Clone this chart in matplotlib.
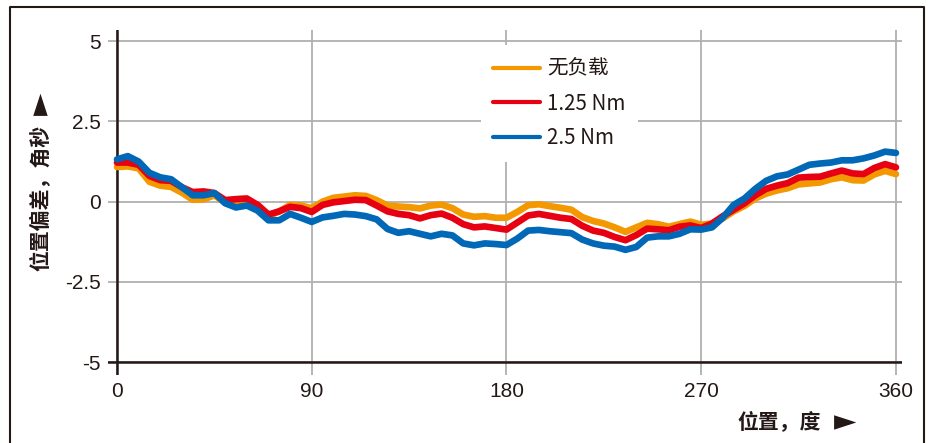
import numpy as np
import matplotlib
matplotlib.use("Agg")
import matplotlib.pyplot as plt
from matplotlib.lines import Line2D

plt.rcParams['font.family'] = ['Noto Sans CJK SC', 'DejaVu Sans']

# position, degrees
deg = list(range(0, 361, 5))

# position error, arcsec
no_load = [1.08, 1.10, 1.04, 0.62, 0.50, 0.46, 0.28, 0.06, 0.07, 0.20,
           -0.03, -0.12, -0.10, -0.20, -0.45, -0.30, -0.10, -0.12, -0.20, 0.00,
           0.12, 0.16, 0.20, 0.18, 0.05, -0.12, -0.15, -0.17, -0.21, -0.12,
           -0.09, -0.20, -0.40, -0.47, -0.45, -0.50, -0.50, -0.32, -0.11, -0.08,
           -0.14, -0.19, -0.25, -0.48, -0.60, -0.68, -0.80, -0.94, -0.80, -0.66,
           -0.70, -0.78, -0.70, -0.62, -0.72, -0.68, -0.52, -0.30, -0.13, 0.10,
           0.25, 0.35, 0.42, 0.54, 0.57, 0.60, 0.70, 0.76, 0.67, 0.66,
           0.85, 0.96, 0.86]
load_125 = [1.22, 1.22, 1.15, 0.80, 0.67, 0.65, 0.45, 0.30, 0.32, 0.27,
            0.05, 0.08, 0.10, -0.10, -0.40, -0.30, -0.16, -0.20, -0.32, -0.10,
            -0.02, 0.02, 0.06, 0.05, -0.12, -0.30, -0.38, -0.42, -0.52, -0.42,
            -0.37, -0.50, -0.70, -0.80, -0.77, -0.82, -0.87, -0.65, -0.43, -0.38,
            -0.44, -0.50, -0.54, -0.75, -0.90, -0.97, -1.10, -1.20, -1.04, -0.84,
            -0.86, -0.89, -0.78, -0.74, -0.82, -0.68, -0.45, -0.25, -0.05, 0.20,
            0.40, 0.50, 0.58, 0.75, 0.77, 0.78, 0.88, 0.97, 0.88, 0.86,
            1.05, 1.17, 1.07]
load_25 = [1.32, 1.42, 1.25, 0.90, 0.76, 0.70, 0.45, 0.20, 0.20, 0.27,
           -0.05, -0.18, -0.12, -0.28, -0.58, -0.58, -0.38, -0.50, -0.63, -0.49,
           -0.44, -0.38, -0.40, -0.45, -0.55, -0.85, -0.97, -0.92, -1.00, -1.08,
           -1.00, -1.05, -1.30, -1.36, -1.30, -1.32, -1.35, -1.15, -0.90, -0.88,
           -0.92, -0.95, -0.98, -1.18, -1.30, -1.37, -1.40, -1.50, -1.41, -1.12,
           -1.08, -1.08, -1.00, -0.86, -0.87, -0.80, -0.50, -0.10, 0.10, 0.40,
           0.65, 0.79, 0.85, 1.00, 1.15, 1.19, 1.22, 1.29, 1.29, 1.35,
           1.44, 1.56, 1.52]

labels = ['无负载', '1.25 Nm', '2.5 Nm']
colors = ['#F39800', '#E60012', '#0068B7']
x_ticks = [0, 90, 180, 270, 360]
y_ticks = [-5, -2.5, 0, 2.5, 5]
y_ticklabels = ['-5', '-2.5', '0', '2.5', '5']

W, H = 936, 443
fig = plt.figure(figsize=(W / 100, H / 100), dpi=100)
ax = fig.add_axes([108 / W, 1 - 375 / H, 794 / W, 345 / H])

ax.set_xlim(-4.16, 362.8)
ax.set_ylim(-5.4, 5.35)
ax.set_xticks(x_ticks)
ax.set_yticks(y_ticks)
ax.set_yticklabels(y_ticklabels)
ax.grid(True, color='#b0b0b0', lw=1.3)
ax.set_axisbelow(True)
for s in ax.spines.values():
    s.set_visible(False)
ax.tick_params(length=0, labelsize=15, labelcolor='#231815', pad=5)
for t in ax.get_xticklabels() + ax.get_yticklabels():
    t.set_family('Liberation Sans')

ax.axvline(0, color='#231815', lw=1.8, zorder=1.5)
ax.axhline(-5, color='#231815', lw=1.8, zorder=1.5)

for ys, c, lab in zip([no_load, load_125, load_25], colors, labels):
    ax.plot(deg, ys, color=c, lw=4.8, label=lab, solid_capstyle='round', zorder=3)

handles = [Line2D([], [], color=c, lw=3, solid_capstyle='round') for c in colors]
leg = ax.legend(handles, labels, loc='upper left', bbox_to_anchor=(0.457, 0.985),
                frameon=True, fancybox=False, framealpha=1, facecolor='white',
                edgecolor='none', fontsize=14.8, handlelength=2.25, handletextpad=0.35,
                labelspacing=0.62, borderpad=0.6)
for t in leg.get_texts():
    t.set_color('#231815')

# axis titles with separate pointer glyphs
lab_kw = dict(fontsize=15, fontweight='bold', color='#231815')
fig.text(41 / W, 1 - 198 / H, '位置偏差，角秒', rotation=90, ha='center', va='center', **lab_kw)
fig.text(41 / W, 1 - 104 / H, '►', rotation=90, ha='center', va='center',
         fontsize=21, color='#231815', family='DejaVu Sans')
fig.text(737 / W, 1 - 422 / H, '位置，度', ha='left', va='center', **lab_kw)
fig.text(845 / W, 1 - 422 / H, '►', ha='center', va='center',
         fontsize=21, color='#231815', family='DejaVu Sans')

# outer frame
fx = [10 / W, 10 / W, 924 / W, 924 / W]
fy = [0, 1 - 7 / H, 1 - 7 / H, 0]
fig.add_artist(Line2D(fx, fy, color='#231815', lw=1.5, transform=fig.transFigure))

fig.savefig('out.png', dpi=100)
